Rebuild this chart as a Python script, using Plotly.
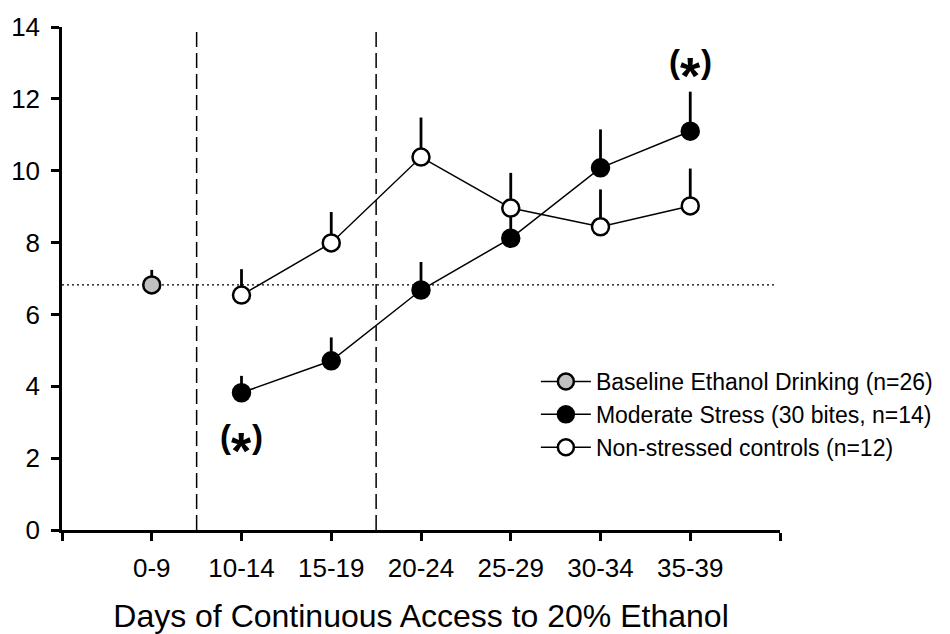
import plotly.graph_objects as go

# Day blocks of continuous access to 20% ethanol
categories = ["0-9", "10-14", "15-19", "20-24", "25-29", "30-34", "35-39"]

# Baseline ethanol drinking (n=26), only measured over days 0-9
baseline_cat = ["0-9"]
baseline_mean = [6.82]
baseline_sem = [0.42]

# Moderate stress (30 bites, n=14)
stress_cat = ["10-14", "15-19", "20-24", "25-29", "30-34", "35-39"]
stress_mean = [3.82, 4.71, 6.68, 8.12, 10.08, 11.10]
stress_sem = [0.47, 0.65, 0.78, 0.84, 1.07, 1.10]

# Non-stressed controls (n=12)
control_cat = ["10-14", "15-19", "20-24", "25-29", "30-34", "35-39"]
control_mean = [6.54, 7.99, 10.38, 8.96, 8.44, 9.02]
control_sem = [0.72, 0.86, 1.10, 0.98, 1.04, 1.04]

# Significance markers "(*)"
sig_cat = ["10-14", "35-39"]
sig_y = [2.6, 13.03]

FONT = "Liberation Sans, Arial, Helvetica, sans-serif"
pos = {c: i + 1 for i, c in enumerate(categories)}


def xs(cats):
    return [pos[c] for c in cats]


def series(name, cats, mean, sem, fill):
    return go.Scatter(
        x=xs(cats), y=mean, name=name, mode="lines+markers",
        line=dict(color="black", width=1.5),
        marker=dict(size=17, color=fill, line=dict(color="black", width=2.5)),
        error_y=dict(type="data", array=sem, arrayminus=[0] * len(sem),
                     symmetric=False, color="black", thickness=2.8, width=0),
    )


fig = go.Figure()
fig.add_trace(series("Baseline Ethanol Drinking (n=26)", baseline_cat,
                     baseline_mean, baseline_sem, "#c0c0c0"))
fig.add_trace(series("Moderate Stress (30 bites, n=14)", stress_cat,
                     stress_mean, stress_sem, "black"))
fig.add_trace(series("Non-stressed controls (n=12)", control_cat,
                     control_mean, control_sem, "white"))

# Phase separators and baseline reference level
for xv in (1.5, 3.5):
    fig.add_shape(type="line", x0=xv, x1=xv, y0=0, y1=14, xref="x", yref="y",
                  line=dict(color="black", width=1.5, dash="15px,6px"), layer="below")
fig.add_shape(type="line", x0=0, x1=7.95, y0=baseline_mean[0], y1=baseline_mean[0],
              xref="x", yref="y", line=dict(color="black", width=1.2, dash="2px,3px"),
              layer="below")

# Parentheses and a low, heavy asterisk between them
for c, y in zip(sig_cat, sig_y):
    for txt, dx in (("(", -16), (")", 16)):
        fig.add_annotation(x=pos[c], y=y, xshift=dx, showarrow=False, text=f"<b>{txt}</b>",
                           font=dict(family=FONT, size=33, color="black"))
    fig.add_annotation(x=pos[c], y=y, yshift=-14, showarrow=False, text="<b>*</b>",
                       font=dict(family=FONT, size=52, color="black"))

fig.update_layout(
    width=950, height=634, autosize=False,
    margin=dict(l=62, r=168, t=27, b=104),
    plot_bgcolor="white", paper_bgcolor="white",
    font=dict(family=FONT, color="black"),
    showlegend=True,
    legend=dict(x=0.66, y=0.338, xanchor="left", yanchor="top",
                font=dict(size=23, family=FONT), bgcolor="rgba(0,0,0,0)",
                tracegroupgap=0, itemwidth=50),
    xaxis=dict(
        range=[0, 8], tickmode="array", tickvals=list(range(0, 9)),
        ticktext=[""] + categories + [""],
        showline=True, linecolor="black", linewidth=2.5,
        ticks="outside", ticklen=8, tickwidth=2.5, tickcolor="black",
        showgrid=False, zeroline=False, tickfont=dict(size=26),
        ticklabelstandoff=5, automargin=False,
        title=dict(text="Days of Continuous Access to 20% Ethanol",
                   font=dict(size=32), standoff=24),
    ),
    yaxis=dict(
        range=[0, 14], tickmode="array", tickvals=list(range(0, 15, 2)),
        showline=True, linecolor="black", linewidth=2.5,
        ticks="outside", ticklen=8, tickwidth=2.5, tickcolor="black",
        showgrid=False, zeroline=False, tickfont=dict(size=26),
        ticklabelstandoff=6, automargin=False,
    ),
)

fig.write_html("out.html")
